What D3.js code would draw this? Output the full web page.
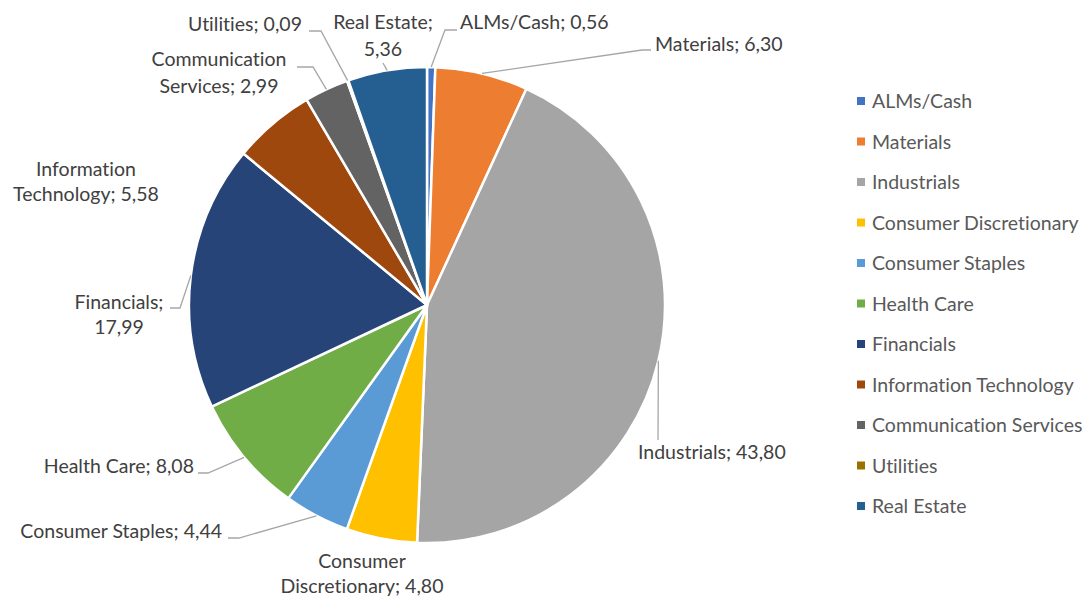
<!DOCTYPE html>
<html>
<head>
<meta charset="utf-8">
<script src="https://cdn.jsdelivr.net/npm/d3@7/dist/d3.min.js"></script>
<style>
  html, body { margin: 0; padding: 0; background: #fff; }
  svg { display: block; }
  text { font-family: Lato, "Open Sans", sans-serif; font-variant-ligatures: none; }
</style>
</head>
<body>
<svg id="chart" width="1090" height="597"></svg>
<script>
// Sector weights (%)
const sectors = ["ALMs/Cash", "Materials", "Industrials", "Consumer Discretionary",
  "Consumer Staples", "Health Care", "Financials", "Information Technology",
  "Communication Services", "Utilities", "Real Estate"];
const weights = [0.56, 6.30, 43.80, 4.80, 4.44, 8.08, 17.99, 5.58, 2.99, 0.09, 5.36];
const colors = ["#4472C4", "#ED7D31", "#A5A5A5", "#FFC000", "#5B9BD5", "#70AD47",
  "#264478", "#9E480E", "#636363", "#997300", "#255E91"];

// Label text lines, placement and leader elbows
const labelLines = [
  ["ALMs/Cash; 0,56"], ["Materials; 6,30"], ["Industrials; 43,80"],
  ["Consumer", "Discretionary; 4,80"], ["Consumer Staples; 4,44"],
  ["Health Care; 8,08"], ["Financials;", "17,99"], ["Information", "Technology; 5,58"],
  ["Communication", "Services; 2,99"], ["Utilities; 0,09"], ["Real Estate;", "5,36"]
];
const labelPlace = [
  {x: 460, y: 29, anchor: "start", gap: 0, leader: [[445, 30], [457, 30]]},
  {x: 655, y: 51, anchor: "start", gap: 0, leader: [[642, 50], [651, 50]]},
  {x: 638, y: 459, anchor: "start", gap: 0, leader: [[658, 440]]},
  {x: 362, y: 568, anchor: "middle", gap: 25, leader: null},
  {x: 222, y: 538, anchor: "end", gap: 0, leader: [[239, 538], [228, 538]]},
  {x: 194, y: 473, anchor: "end", gap: 0, leader: [[208, 473], [198, 473]]},
  {x: 119, y: 309, anchor: "middle", gap: 25, leader: [[180, 308], [170, 308]]},
  {x: 86, y: 176, anchor: "middle", gap: 25, leader: null},
  {x: 219, y: 66, anchor: "middle", gap: 27, leader: [[313, 67], [297, 67]]},
  {x: 188, y: 31, anchor: "start", gap: 0, leader: [[321, 31], [309, 31]]},
  {x: 383, y: 29, anchor: "middle", gap: 27, leader: [[383, 63]]}
];

const FONT = 19.5;
const svg = d3.select("#chart");
const cx = 427, cy = 305, R = 238;

const data = sectors.map((s, i) => ({name: s, value: weights[i], color: colors[i],
  lines: labelLines[i], place: labelPlace[i]}));

const pie = d3.pie().value(d => d.value).sort(null);
const arcs = pie(data);
const arc = d3.arc().innerRadius(0).outerRadius(R);

const g = svg.append("g").attr("transform", `translate(${cx},${cy})`);
g.selectAll("path.slice").data(arcs).join("path")
  .attr("class", "slice")
  .attr("d", arc)
  .attr("fill", d => d.data.color)
  .attr("stroke", "#fff")
  .attr("stroke-width", 2.5)
  .attr("stroke-linejoin", "round");

// Leader lines from each slice's outer edge to its label
const line = d3.line();
arcs.forEach(a => {
  const p = a.data.place;
  if (!p.leader) return;
  const mid = (a.startAngle + a.endAngle) / 2;
  const start = [cx + R * Math.sin(mid), cy - R * Math.cos(mid)];
  svg.append("path")
    .attr("d", line([start, ...p.leader]))
    .attr("fill", "none")
    .attr("stroke", "#A6A6A6")
    .attr("stroke-width", 1.3);
});

// Data labels
arcs.forEach(a => {
  const p = a.data.place;
  const t = svg.append("text")
    .attr("x", p.x).attr("y", p.y)
    .attr("text-anchor", p.anchor)
    .attr("font-size", FONT)
    .attr("fill", "#404040");
  a.data.lines.forEach((ln, j) => {
    t.append("tspan").attr("x", p.x).attr("y", p.y + j * p.gap).text(ln);
  });
});

// Legend
const legendY = d3.scalePoint().domain(sectors).range([101, 506]);
const lg = svg.append("g");
const item = lg.selectAll("g").data(data).join("g")
  .attr("transform", d => `translate(857,${legendY(d.name)})`);
item.append("rect").attr("x", 0).attr("y", -4).attr("width", 8).attr("height", 8)
  .attr("fill", d => d.color);
item.append("text").attr("x", 15).attr("y", 7)
  .attr("font-size", FONT).attr("fill", "#595959")
  .text(d => d.name);
</script>
</body>
</html>
